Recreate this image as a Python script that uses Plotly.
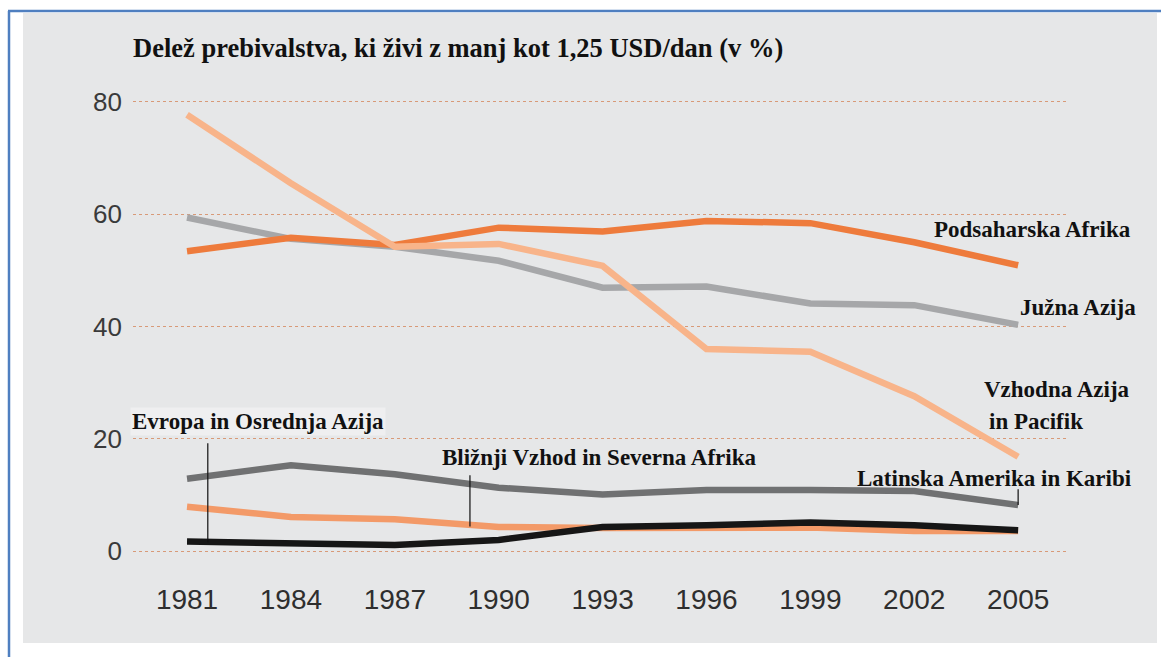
import plotly.graph_objects as go

years = [1981, 1984, 1987, 1990, 1993, 1996, 1999, 2002, 2005]
east_asia = [77.7, 65.5, 54.2, 54.7, 50.8, 36.0, 35.5, 27.6, 16.8]
subsaharan = [53.4, 55.8, 54.5, 57.6, 56.9, 58.8, 58.4, 55.0, 50.9]
south_asia = [59.4, 55.6, 54.2, 51.7, 46.9, 47.1, 44.1, 43.8, 40.3]
latin_america = [12.9, 15.3, 13.7, 11.3, 10.1, 10.9, 10.9, 10.7, 8.2]
mena = [7.9, 6.1, 5.7, 4.3, 4.1, 4.1, 4.2, 3.6, 3.6]
europe_ca = [1.7, 1.3, 1.1, 2.0, 4.3, 4.6, 5.1, 4.6, 3.7]
y_ticks = [0, 20, 40, 60, 80]

W, H = 1161, 657
L, R, T, B = 133, 93, 85, 89
PW, PH = W - L - R, H - T - B

def px(x):
    return (x - L) / PW

def py(y):
    return (H - B - y) / PH

fig = go.Figure()
series = [
    ("Južna Azija", south_asia, "#a6a7a9", 6.5),
    ("Podsaharska Afrika", subsaharan, "#ee7b3c", 6.5),
    ("Vzhodna Azija in Pacifik", east_asia, "#f8b48a", 6.5),
    ("Latinska Amerika in Karibi", latin_america, "#707172", 6.5),
    ("Bližnji Vzhod in Severna Afrika", mena, "#f39a68", 6.5),
    ("Evropa in Osrednja Azija", europe_ca, "#161616", 6.5),
]
for name, vals, col, w in series:
    fig.add_trace(go.Scatter(x=years, y=vals, mode="lines", name=name,
                             line=dict(color=col, width=w), showlegend=False))

serif = "Liberation Serif, Times New Roman, serif"
lab_font = dict(family=serif, size=23, color="#111111")

anns = [
    dict(text="<b>Delež prebivalstva, ki živi z manj kot 1,25 USD/dan (v %)</b>",
         xref="paper", yref="paper", x=px(131), y=py(48), xanchor="left", yanchor="middle",
         showarrow=False, font=dict(family=serif, size=26.5, color="#111111")),
    dict(text="<b>Podsaharska Afrika</b>", x=2002.5, y=57.3, xanchor="left", yanchor="middle",
         showarrow=False, font=lab_font),
    dict(text="<b>Južna Azija</b>", x=2005.0, y=43.3, xanchor="left", yanchor="middle",
         showarrow=False, font=lab_font),
    dict(text="<b>Vzhodna Azija</b>", x=2003.95, y=28.7, xanchor="left", yanchor="middle",
         showarrow=False, font=lab_font),
    dict(text="<b>in Pacifik</b>", x=2004.1, y=23.0, xanchor="left", yanchor="middle",
         showarrow=False, font=lab_font),
    dict(text="<b>Latinska Amerika in Karibi</b>", x=2000.3, y=13.0, xanchor="left", yanchor="middle",
         showarrow=False, font=lab_font),
    dict(text="<b>Bližnji Vzhod in Severna Afrika</b>", x=1988.3, y=16.6, xanchor="left", yanchor="middle",
         showarrow=False, font=lab_font),
    dict(text="<b>Evropa in Osrednja Azija</b>", xref="paper", x=px(130), y=23.0,
         xanchor="left", yanchor="middle",
         showarrow=False, font=lab_font, bgcolor="rgba(255,255,255,0.35)"),
    # leader lines
    dict(x=1981.6, y=1.6, ax=1981.6, ay=19.5, axref="x", ayref="y", xref="x", yref="y",
         text="", showarrow=True, arrowhead=0, arrowwidth=1.2, arrowcolor="#111111"),
    dict(x=1989.17, y=4.4, ax=1989.17, ay=13.8, axref="x", ayref="y", xref="x", yref="y",
         text="", showarrow=True, arrowhead=0, arrowwidth=1.2, arrowcolor="#111111"),
    dict(x=2005, y=8.2, ax=2005, ay=11.3, axref="x", ayref="y", xref="x", yref="y",
         text="", showarrow=True, arrowhead=0, arrowwidth=1.2, arrowcolor="#111111"),
]

shapes = [
    dict(type="rect", xref="paper", yref="paper", x0=px(23), x1=px(1157), y0=py(643), y1=py(13),
         fillcolor="#e6e7e8", line=dict(width=0), layer="below"),
    dict(type="line", xref="paper", yref="paper", x0=px(9), x1=px(9), y0=py(657), y1=py(11),
         line=dict(color="#4f7fc0", width=2.5), layer="below"),
    dict(type="line", xref="paper", yref="paper", x0=px(8), x1=px(1161), y0=py(11), y1=py(11),
         line=dict(color="#4f7fc0", width=2.5), layer="below"),
]

fig.update_layout(
    width=W, height=H,
    margin=dict(l=L, r=R, t=T, b=B, pad=0),
    paper_bgcolor="white", plot_bgcolor="rgba(0,0,0,0)",
    annotations=anns, shapes=shapes,
    xaxis=dict(range=[1979.44, 2006.44], tickvals=years, ticktext=[str(y) for y in years],
               showgrid=False, zeroline=False, showline=False, ticks="",
               tickfont=dict(family="Liberation Sans, Arial, sans-serif", size=28, color="#2e2e2e"),
               ticklabelstandoff=12),
    yaxis=dict(range=[-3, 83], tickvals=y_ticks, showgrid=True, gridcolor="#d89a78",
               griddash="dot", gridwidth=1, zeroline=False, showline=False, ticks="",
               tickfont=dict(family="Liberation Sans, Arial, sans-serif", size=26, color="#3a3a3a"),
               ticklabelstandoff=10),
)

fig.write_html("out.html", config={"displayModeBar": False},
               post_script="document.body.style.margin='0';document.body.style.overflow='hidden';")
